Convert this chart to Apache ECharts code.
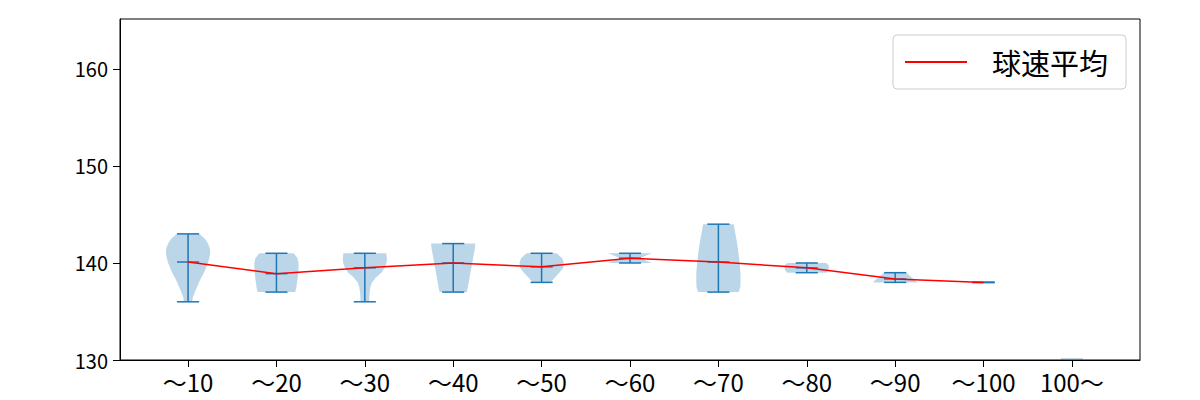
<!DOCTYPE html>
<html><head><meta charset="utf-8">
<script src="https://cdn.jsdelivr.net/npm/echarts@6/dist/echarts.min.js"></script>
<style>html,body{margin:0;padding:0;background:#fff}#c{width:1200px;height:400px}</style>
</head><body><div id="c"></div>
<script>
const categories = ['〜10','〜20','〜30','〜40','〜50','〜60','〜70','〜80','〜90','〜100','100〜'];
const minValues  = [136, 137, 136, 137, 138, 140, 137, 139, 138, 138, null];
const maxValues  = [143, 141, 141, 142, 141, 141, 144, 140, 139, 138, null];
const meanValues = [140.1, 138.9, 139.5, 140.0, 139.6, 140.5, 140.1, 139.5, 138.35, 138.0, null];
const yTicks = [130, 140, 150, 160];
// violin outline: speed levels and relative density (0..1)
const profileValues = [
  [136,136.5,137,137.5,138,138.5,139,139.5,140,140.5,141,141.5,142,142.5,143],
  [137,137.5,138,138.5,139,139.5,140,140.5,141],
  [136,136.5,137,137.5,138,138.5,139,139.5,140,140.5,141],
  [137,137.5,138,138.5,139,139.5,140,140.5,141,141.5,142],
  [138,138.5,139,139.5,140,140.5,141],
  [140,140.25,140.5,140.75,141],
  [137,137.5,138,139,140,141,142,143,144],
  [139,139.25,139.5,139.75,140],
  [138,138.25,138.5,138.75,139],
  [],
  [130,130.2]
];
const profileDensity = [
  [0.18,0.22,0.31,0.4,0.49,0.6,0.72,0.81,0.9,0.96,1.0,0.99,0.9,0.76,0.52],
  [0.85,0.9,0.93,0.96,0.98,1.0,1.0,0.95,0.78],
  [0.2,0.2,0.22,0.25,0.32,0.5,0.75,0.9,0.98,1.0,0.97],
  [0.62,0.66,0.7,0.74,0.78,0.82,0.86,0.9,0.94,0.98,1.0],
  [0.4,0.6,0.8,0.98,1.0,0.93,0.68],
  [1.0,0.7,0.46,0.7,1.0],
  [0.92,0.99,1.0,1.0,0.96,0.91,0.85,0.77,0.69],
  [0.88,0.98,1.0,1.0,0.88],
  [1.0,0.9,0.75,0.62,0.5],
  [],
  [0.5,0.5]
];

const VIOLIN_HALF = 0.25, CAP_HALF = 0.125;
const BLUE = '#1f77b4';
const FONT = '"Noto Sans CJK JP", "Noto Sans", sans-serif';
const positions = categories.map((c, i) => i + 1);

function renderBody(params, api) {
  const i = params.dataIndex;
  const vals = profileValues[i], dens = profileDensity[i];
  if (!vals.length) return null;
  const pos = positions[i];
  const pts = [];
  for (let k = 0; k < vals.length; k++) pts.push(api.coord([pos + dens[k] * VIOLIN_HALF, vals[k]]));
  for (let k = vals.length - 1; k >= 0; k--) pts.push(api.coord([pos - dens[k] * VIOLIN_HALF, vals[k]]));
  return { type: 'polygon', shape: { points: pts }, style: { fill: 'rgba(31,119,180,0.3)', stroke: null } };
}
function renderLines(params, api) {
  const i = params.dataIndex;
  if (minValues[i] == null) return null;
  const pos = positions[i];
  const st = { stroke: BLUE, lineWidth: 1.5, fill: null };
  const seg = (x1, y1, x2, y2) => {
    const a = api.coord([x1, y1]), b = api.coord([x2, y2]);
    return { type: 'line', shape: { x1: a[0], y1: a[1], x2: b[0], y2: b[1] }, style: st };
  };
  return { type: 'group', children: [
    seg(pos, minValues[i], pos, maxValues[i]),
    seg(pos - CAP_HALF, minValues[i], pos + CAP_HALF, minValues[i]),
    seg(pos - CAP_HALF, maxValues[i], pos + CAP_HALF, maxValues[i]),
    seg(pos - CAP_HALF, meanValues[i], pos + CAP_HALF, meanValues[i])
  ]};
}

const chart = echarts.init(document.getElementById('c'), null, { renderer: 'svg' });
chart.setOption({
  animation: false,
  backgroundColor: '#fff',
  textStyle: { fontFamily: FONT },
  grid: { left: 120, right: 60, top: 19, bottom: 40, show: true, borderColor: '#000', borderWidth: 1, backgroundColor: 'transparent' },
  legend: {
    data: [{ name: '球速平均', icon: 'rect' }], left: 893, top: 35,
    itemWidth: 62, itemHeight: 2,
    backgroundColor: '#fff', borderColor: '#cccccc', borderWidth: 1, borderRadius: 4,
    padding: [11, 18, 11, 12],
    textStyle: { fontSize: 29, color: '#000', fontFamily: FONT, padding: [0, 0, 0, 20], lineHeight: 32 }
  },
  xAxis: {
    type: 'value', min: 0.23, max: 11.77,
    axisLine: { lineStyle: { color: '#000', width: 1 } },
    axisTick: { customValues: positions, length: 7, lineStyle: { color: '#000' } },
    axisLabel: { customValues: positions, formatter: v => categories[Math.round(v) - 1], fontSize: 24, color: '#000', margin: 9, fontFamily: FONT },
    splitLine: { show: false }
  },
  yAxis: {
    type: 'value', min: 130, max: 165.15,
    axisLine: { show: true, lineStyle: { color: '#000', width: 1 } },
    axisTick: { show: true, customValues: yTicks, length: 7, lineStyle: { color: '#000' } },
    axisLabel: { customValues: yTicks, fontSize: 20, color: '#000', margin: 12, fontFamily: FONT },
    splitLine: { show: false }
  },
  series: [
    { type: 'custom', name: 'violin', renderItem: renderBody, clip: true, z: 2,
      data: positions.map(p => [p, 130]), silent: true },
    { type: 'custom', name: 'range', renderItem: renderLines, clip: true, z: 3,
      data: positions.map(p => [p, 130]), silent: true },
    { type: 'line', name: '球速平均', z: 4, symbol: 'none', showSymbol: false,
      lineStyle: { color: 'red', width: 1.5 }, itemStyle: { color: 'red' },
      data: meanValues.slice(0, 10).map((v, i) => [positions[i], v]) }
  ]
});
</script></body></html>
